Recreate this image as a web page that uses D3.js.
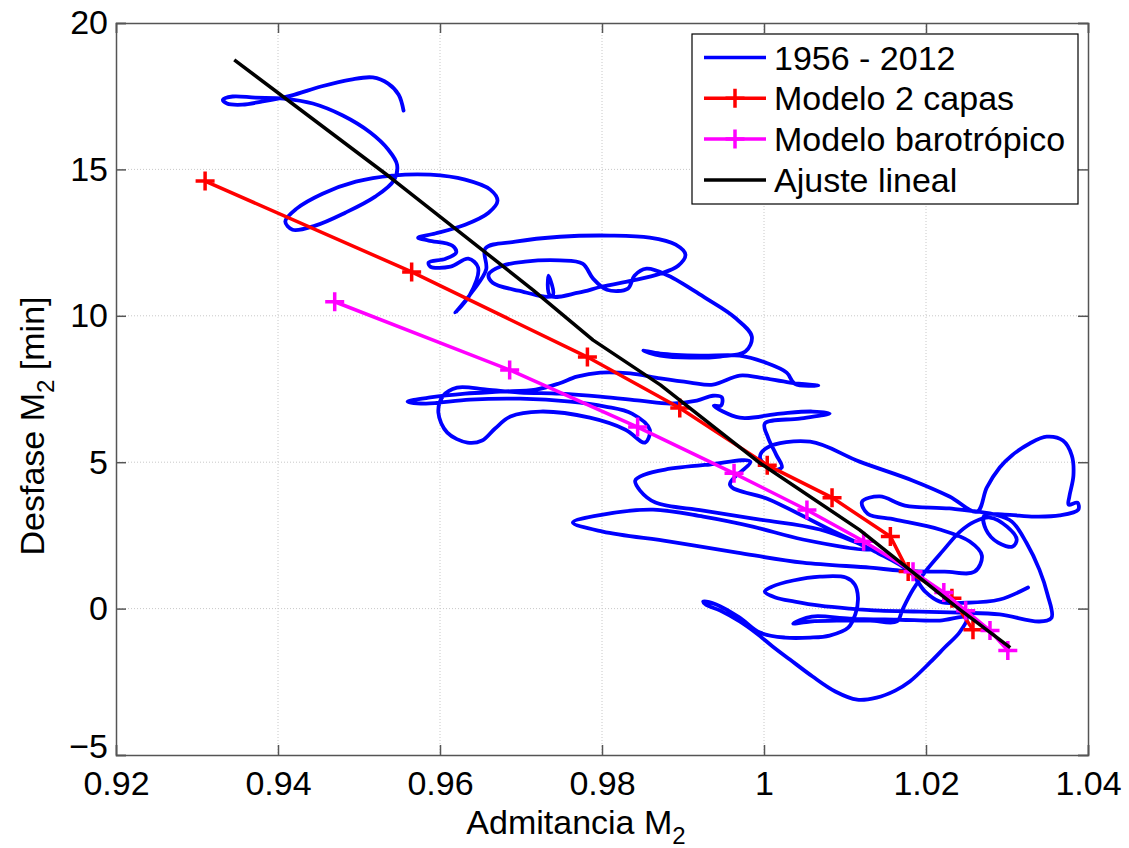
<!DOCTYPE html>
<html>
<head>
<meta charset="utf-8">
<script src="https://cdn.jsdelivr.net/npm/d3@7"></script>
<style>
  body { margin: 0; background: #fff; }
  svg { font-family: "Liberation Sans", Arial, sans-serif; }
</style>
</head>
<body>
<svg id="chart" width="1129" height="848"></svg>
<script>
// ticks
const xTicks = [0.92, 0.94, 0.96, 0.98, 1.00, 1.02, 1.04];
const yTicks = [-5, 0, 5, 10, 15, 20];

// 1956 - 2012 : [admitancia, desfase]
const trayectoria = [
  [0.9555,17.01],[0.9549,17.55],[0.9536,17.93],[0.9517,18.14],[0.9490,18.07],[0.9453,17.83],
  [0.9416,17.52],[0.9381,17.32],[0.9356,17.21],[0.9337,17.25],[0.9332,17.38],[0.9344,17.49],
  [0.9372,17.45],[0.9407,17.42],[0.9443,17.25],[0.9480,16.84],[0.9514,16.26],[0.9536,15.68],
  [0.9547,15.16],[0.9543,14.62],[0.9520,14.07],[0.9483,13.52],[0.9446,13.08],[0.9418,12.94],
  [0.9409,13.22],[0.9423,13.66],[0.9455,14.17],[0.9496,14.58],[0.9541,14.79],[0.9588,14.82],
  [0.9631,14.65],[0.9662,14.31],[0.9671,13.93],[0.9660,13.52],[0.9631,13.11],[0.9594,12.81],
  [0.9573,12.67],[0.9586,12.57],[0.9615,12.40],[0.9620,12.16],[0.9607,11.95],[0.9586,11.82],
  [0.9588,11.68],[0.9613,11.68],[0.9635,11.95],[0.9647,11.65],[0.9637,10.72],[0.9619,10.11],
  [0.9640,10.83],[0.9657,11.58],[0.9656,12.30],[0.9693,12.53],[0.9748,12.70],[0.9810,12.74],
  [0.9859,12.67],[0.9891,12.43],[0.9903,12.09],[0.9894,11.71],[0.9872,11.44],[0.9837,11.20],
  [0.9800,11.00],[0.9771,10.79],[0.9736,10.69],[0.9734,11.37],[0.9739,10.69],[0.9697,10.86],
  [0.9665,11.13],[0.9660,11.41],[0.9677,11.71],[0.9705,11.85],[0.9748,11.89],[0.9776,11.78],
  [0.9789,11.27],[0.9806,10.89],[0.9832,10.93],[0.9840,11.37],[0.9855,11.61],[0.9882,11.37],
  [0.9927,10.62],[0.9964,9.94],[0.9985,9.29],[0.9977,8.78],[0.9946,8.61],[0.9909,8.57],
  [0.9872,8.64],[0.9851,8.81],[0.9872,8.71],[0.9921,8.64],[0.9970,8.64],[1.0002,8.40],
  [1.0028,8.06],[1.0038,7.68],[1.0067,7.62],[1.0032,7.72],[0.9995,7.89],[0.9970,7.96],
  [0.9937,7.65],[0.9909,7.72],[0.9872,7.86],[0.9835,8.03],[0.9798,8.06],[0.9769,7.92],
  [0.9746,7.68],[0.9718,7.48],[0.9674,7.41],[0.9631,7.34],[0.9588,7.21],[0.9560,7.07],
  [0.9582,7.00],[0.9637,7.14],[0.9699,7.17],[0.9761,7.07],[0.9804,6.90],[0.9837,6.66],
  [0.9859,6.11],[0.9853,5.67],[0.9829,6.11],[0.9785,6.52],[0.9724,6.73],[0.9687,6.56],
  [0.9668,6.15],[0.9652,5.74],[0.9634,5.67],[0.9609,6.01],[0.9598,6.69],[0.9604,7.27],
  [0.9621,7.55],[0.9658,7.48],[0.9699,7.38],[0.9748,7.34],[0.9798,7.24],[0.9847,7.10],
  [0.9884,7.00],[0.9917,7.10],[0.9937,7.27],[0.9948,7.21],[0.9947,6.93],[0.9938,6.93],
  [0.9970,6.52],[1.0020,6.66],[1.0060,6.73],[1.0081,6.66],[1.0044,6.49],[1.0001,6.32],
  [1.0005,5.84],[1.0015,5.26],[1.0022,4.82],[1.0010,4.75],[0.9995,5.16],[1.0004,5.50],
  [1.0057,5.70],[1.0118,5.02],[1.0184,4.37],[1.0229,3.83],[1.0263,3.31],[1.0275,4.13],
  [1.0291,4.82],[1.0306,5.23],[1.0328,5.64],[1.0349,5.87],[1.0369,5.74],[1.0380,5.23],
  [1.0382,4.54],[1.0377,3.83],[1.0376,3.55],[1.0387,3.62],[1.0388,3.38],[1.0365,3.18],
  [1.0334,3.14],[1.0297,3.21],[1.0272,3.18],[1.0274,2.70],[1.0289,2.25],[1.0307,2.12],
  [1.0312,2.36],[1.0300,2.80],[1.0279,3.11],[1.0260,2.97],[1.0242,2.63],[1.0221,1.98],
  [1.0201,1.33],[1.0184,0.65],[1.0171,-0.03],[1.0164,-0.44],[1.0131,-0.41],[1.0094,-0.41],
  [1.0057,-0.44],[1.0036,-0.51],[1.0059,-0.27],[1.0106,-0.34],[1.0168,-0.38],[1.0217,-0.41],
  [1.0250,-0.31],[1.0242,-0.79],[1.0223,-1.33],[1.0205,-1.84],[1.0180,-2.49],[1.0162,-2.80],
  [1.0139,-3.04],[1.0115,-3.11],[1.0088,-2.83],[1.0060,-2.32],[1.0032,-1.74],[1.0011,-1.30],
  [0.9991,-0.85],[0.9970,-0.44],[0.9946,-0.07],[0.9928,0.14],[0.9925,0.24],[0.9941,0.14],
  [0.9970,-0.31],[0.9995,-0.82],[1.0026,-0.99],[1.0057,-0.99],[1.0081,-0.92],[1.0104,-0.65],
  [1.0113,-0.17],[1.0116,0.38],[1.0112,0.82],[1.0101,1.06],[1.0069,1.09],[1.0036,0.96],
  [1.0010,0.75],[1.0001,0.58],[1.0014,0.38],[1.0038,0.24],[1.0069,0.10],[1.0106,0.00],
  [1.0143,-0.07],[1.0192,-0.10],[1.0242,-0.14],[1.0291,-0.20],[1.0340,-0.44],[1.0355,-0.31],
  [1.0350,0.48],[1.0340,1.33],[1.0324,2.25],[1.0306,2.97],[1.0285,3.21],[1.0229,3.42],
  [1.0174,3.52],[1.0143,3.83],[1.0121,3.65],[1.0128,3.24],[1.0162,3.04],[1.0217,2.70],
  [1.0254,2.29],[1.0269,1.81],[1.0260,1.26],[1.0223,1.26],[1.0168,1.30],[1.0131,1.40],
  [1.0048,1.57],[0.9967,1.91],[0.9884,2.29],[0.9801,2.63],[0.9764,2.94],[0.9801,3.21],
  [0.9863,3.38],[0.9925,3.14],[0.9986,2.80],[1.0048,2.36],[1.0131,2.01],[1.0069,2.70],
  [0.9995,3.04],[0.9925,3.35],[0.9866,3.62],[0.9847,4.03],[0.9841,4.37],[0.9853,4.58],
  [0.9878,4.75],[0.9933,4.92],[0.9983,5.02],[0.9958,4.23],[1.0007,3.72],[1.0081,2.70],
  [1.0137,1.95],[1.0180,1.26],[1.0199,0.58],[1.0217,0.24],[1.0250,0.20],[1.0291,0.31],
  [1.0326,0.72]
];

// Modelo 2 capas
const capasAdm = [0.9310, 0.9565, 0.9782, 0.9896, 1.0004, 1.0084, 1.0156, 1.0178, 1.0232, 1.0258];
const capasDes = [14.60, 11.50, 8.59, 6.85, 4.90, 3.79, 2.46, 1.27, 0.35, -0.72];

// Modelo barotropico
const baroAdm = [0.9470, 0.9686, 0.9844, 0.9963, 1.0053, 1.0123, 1.0184, 1.0222, 1.0249, 1.0279, 1.0301];
const baroDes = [10.48, 8.15, 6.20, 4.62, 3.37, 2.30, 1.26, 0.55, -0.07, -0.75, -1.43];

// Ajuste lineal
const ajusteAdm = [0.9346, 0.9538, 0.9715, 0.9789, 0.9872, 0.9995, 1.0118, 1.0237, 1.0304];
const ajusteDes = [18.74, 14.74, 10.88, 9.17, 7.64, 4.97, 2.69, 0.07, -1.33];

const legendNames = ['1956 - 2012', 'Modelo 2 capas', 'Modelo barotrópico', 'Ajuste lineal'];
const legendColors = ['#0000ff', '#ff0000', '#ff00ff', '#000000'];
const legendMarker = [false, true, true, false];

const zip = (a, b) => a.map((v, i) => [v, b[i]]);

const svg = d3.select('#chart');
const plotL = 116, plotR = 1088, plotT = 23, plotB = 755;
const fontSize = '34px';

const x = d3.scaleLinear().domain([0.92, 1.04]).range([plotL, plotR]);
const y = d3.scaleLinear().domain([-5, 20]).range([plotB, plotT]);

// grid
const grid = svg.append('g').attr('class', 'grid')
    .attr('stroke', '#c8c8c8').attr('stroke-width', 1).attr('stroke-dasharray', '1,2');
grid.selectAll('.gx').data(xTicks.slice(1, -1)).enter().append('line')
    .attr('x1', d => x(d)).attr('x2', d => x(d)).attr('y1', plotT).attr('y2', plotB);
grid.selectAll('.gy').data(yTicks.slice(1, -1)).enter().append('line')
    .attr('y1', d => y(d)).attr('y2', d => y(d)).attr('x1', plotL).attr('x2', plotR);

svg.append('clipPath').attr('id', 'clip').append('rect')
    .attr('x', plotL).attr('y', plotT).attr('width', plotR - plotL).attr('height', plotB - plotT);

const plot = svg.append('g').attr('clip-path', 'url(#clip)');

const smooth = d3.line().x(d => x(d[0])).y(d => y(d[1])).curve(d3.curveCatmullRom.alpha(0.5));
const straight = d3.line().x(d => x(d[0])).y(d => y(d[1]));

plot.append('path')
    .datum(trayectoria)
    .attr('fill', 'none')
    .attr('stroke', '#0000ff')
    .attr('stroke-width', 3.8)
    .attr('stroke-linejoin', 'round')
    .attr('stroke-linecap', 'round')
    .attr('d', smooth);

function plus(g, pts, color) {
  g.selectAll(null).data(pts).enter().append('path')
      .attr('d', d => {
        const cx = x(d[0]), cy = y(d[1]);
        return `M${cx - 9.5},${cy}H${cx + 9.5}M${cx},${cy - 9.5}V${cy + 9.5}`;
      })
      .attr('stroke', color)
      .attr('stroke-width', 3.5);
}

const capas = zip(capasAdm, capasDes);
plot.append('path').datum(capas)
    .attr('fill', 'none').attr('stroke', '#ff0000').attr('stroke-width', 3.5).attr('d', straight);
plus(plot, capas, '#ff0000');

const baro = zip(baroAdm, baroDes);
plot.append('path').datum(baro)
    .attr('fill', 'none').attr('stroke', '#ff00ff').attr('stroke-width', 3.5).attr('d', straight);
plus(plot, baro, '#ff00ff');

plot.append('path').datum(zip(ajusteAdm, ajusteDes))
    .attr('fill', 'none').attr('stroke', '#000000').attr('stroke-width', 3.5)
    .attr('stroke-linejoin', 'round').attr('d', straight);

// axes (inward ticks, box)
const axisColor = '#555';
const fmtX = d => (d === 1 ? '1' : d3.format('.2f')(d));

const gx = svg.append('g').attr('transform', `translate(0,${plotB})`)
    .call(d3.axisBottom(x).tickValues(xTicks).tickFormat(fmtX).tickSize(-10).tickPadding(16));
const gxt = svg.append('g').attr('transform', `translate(0,${plotT})`)
    .call(d3.axisTop(x).tickValues(xTicks).tickFormat('').tickSize(-10));
const gy = svg.append('g').attr('transform', `translate(${plotL},0)`)
    .call(d3.axisLeft(y).tickValues(yTicks).tickSize(-10).tickPadding(8));
const gyr = svg.append('g').attr('transform', `translate(${plotR},0)`)
    .call(d3.axisRight(y).tickValues(yTicks).tickFormat('').tickSize(-10));

[gx, gxt, gy, gyr].forEach(g => {
  g.select('.domain').attr('stroke', axisColor).attr('stroke-width', 1.5);
  g.selectAll('.tick line').attr('stroke', axisColor).attr('stroke-width', 1.5);
  g.selectAll('.tick text').attr('fill', '#000').style('font-size', fontSize)
      .style('font-family', '"Liberation Sans", Arial, sans-serif');
});
gy.selectAll('.tick text').filter(d => d === -5).attr('dy', '0.06em');

// axis labels
const xl = svg.append('text')
    .attr('x', 576).attr('y', 834)
    .attr('text-anchor', 'middle')
    .style('font-size', fontSize);
xl.append('tspan').text('Admitancia M');
xl.append('tspan').attr('dy', 10).style('font-size', '24px').text('2');

const yl = svg.append('text')
    .attr('transform', 'translate(44,426) rotate(-90)')
    .attr('text-anchor', 'middle')
    .style('font-size', fontSize);
yl.append('tspan').text('Desfase M');
yl.append('tspan').attr('dy', 10).style('font-size', '24px').text('2');
yl.append('tspan').attr('dy', -10).text(' [min]');

// legend
const lg = svg.append('g');
lg.append('rect')
    .attr('x', 692).attr('y', 34).attr('width', 386).attr('height', 170)
    .attr('fill', '#fff').attr('stroke', '#000').attr('stroke-width', 1.2);

const rows = lg.selectAll('.row').data(legendNames).enter().append('g')
    .attr('transform', (d, i) => `translate(0,${57.5 + i * 40.8})`);
rows.append('line')
    .attr('x1', 704).attr('x2', 766)
    .attr('stroke', (d, i) => legendColors[i]).attr('stroke-width', 3.5);
rows.filter((d, i) => legendMarker[i]).append('path')
    .attr('d', 'M725.5,0H744.5M735,-9.5V9.5')
    .attr('stroke', d => legendColors[legendNames.indexOf(d)]).attr('stroke-width', 3.5);
rows.append('text')
    .attr('x', 774).attr('y', 12)
    .style('font-size', fontSize)
    .text(d => d);
</script>
</body>
</html>
